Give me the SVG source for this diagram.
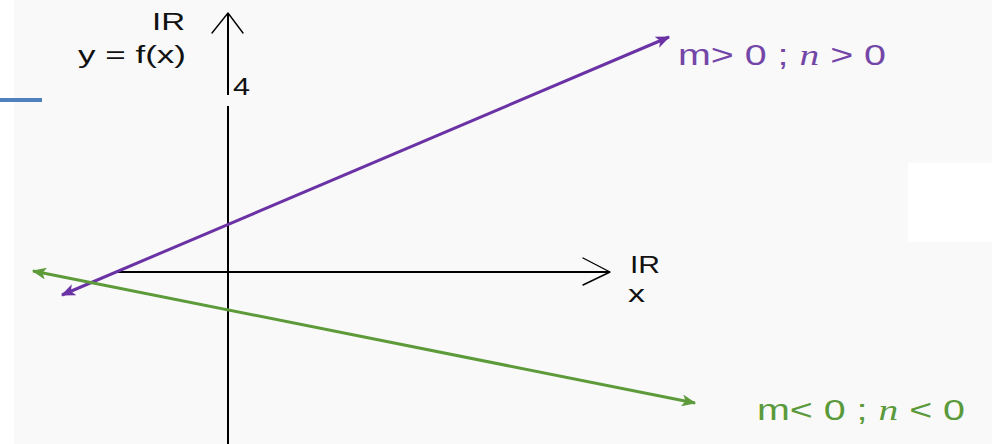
<svg xmlns="http://www.w3.org/2000/svg" width="992" height="444" viewBox="0 0 992 444">
<style>
.axis{stroke:#000;stroke-width:2;fill:none}
.chev{stroke:#000;stroke-width:1.4;fill:none;stroke-linecap:round;stroke-linejoin:round}
.ax{font-family:"Liberation Sans",Arial,sans-serif;font-size:23px;fill:#111}
.lbl{font-family:"Liberation Sans",Arial,sans-serif;font-size:29px}
.it{font-family:"Liberation Serif","DejaVu Serif",serif;font-style:italic}
</style>
<defs>
<marker id="ap" viewBox="0 0 12 10" refX="11" refY="5" markerWidth="5" markerHeight="4" markerUnits="strokeWidth" orient="auto-start-reverse">
<path d="M0,0 L12,5 L0,10 L3,5 Z" fill="#6a32a4"/>
</marker>
<marker id="ag" viewBox="0 0 12 10" refX="11" refY="5" markerWidth="5" markerHeight="4" markerUnits="strokeWidth" orient="auto-start-reverse">
<path d="M0,0 L12,5 L0,10 L3,5 Z" fill="#5c9a3a"/>
</marker>
</defs>
<rect x="0" y="0" width="992" height="444" fill="#f9f9f9"/>
<rect x="0" y="0" width="14" height="444" fill="#ffffff"/>
<rect x="908" y="163" width="84" height="79" fill="#ffffff"/>
<line x1="0" y1="100" x2="42" y2="100" stroke="#4f81bd" stroke-width="4"/>
<g id="axes">
<line class="axis" x1="228" y1="14" x2="228" y2="95"/>
<line class="axis" x1="228" y1="106" x2="228" y2="444"/>
<polyline class="chev" points="212,33 228,13 243,33"/>
<line class="axis" x1="116" y1="272" x2="610" y2="272"/>
<polyline class="chev" points="583,258 610,272 583,285"/>
<text class="ax" x="152" y="30" textLength="33" lengthAdjust="spacingAndGlyphs">IR</text>
<text class="ax" x="78" y="63" textLength="108" lengthAdjust="spacingAndGlyphs">y = f(x)</text>
<text class="ax" x="233" y="95" font-size="27" textLength="17" lengthAdjust="spacingAndGlyphs">4</text>
<text class="ax" x="630" y="273" textLength="30" lengthAdjust="spacingAndGlyphs">IR</text>
<text class="ax" x="628" y="302" textLength="17" lengthAdjust="spacingAndGlyphs">x</text>
</g>
<g id="connectors">
<line x1="62" y1="295" x2="669" y2="37" stroke="#6a32a4" stroke-width="3" marker-start="url(#ap)" marker-end="url(#ap)"/>
<line x1="33" y1="271" x2="695" y2="403" stroke="#5c9a3a" stroke-width="3" marker-start="url(#ag)" marker-end="url(#ag)"/>
</g>
<g id="label-pos">
<text class="lbl" x="678" y="65" fill="#7446a8" textLength="208" lengthAdjust="spacingAndGlyphs">m&gt; 0 ; <tspan class="it">n</tspan> &gt; 0</text>
</g>
<g id="label-neg">
<text class="lbl" x="757" y="420" fill="#5a9a3a" textLength="208" lengthAdjust="spacingAndGlyphs">m&lt; 0 ; <tspan class="it">n</tspan> &lt; 0</text>
</g>
</svg>
